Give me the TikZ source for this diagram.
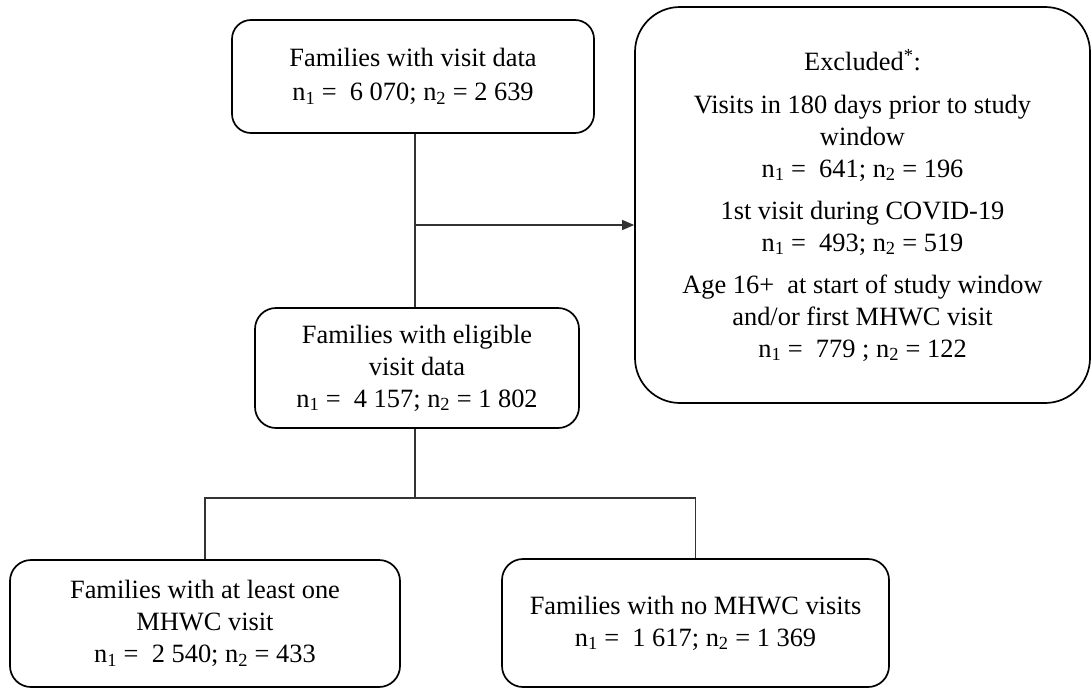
\documentclass[tikz,border=0pt]{standalone}
\usepackage{fontspec}
\setmainfont{Liberation Serif}
\usetikzlibrary{arrows.meta}
\begin{document}
\begin{tikzpicture}[x=1pt,y=-1pt,
  box/.style={draw=black, line width=1.7pt, align=center, inner sep=0pt,
    font=\fontsize{26.4}{32}\selectfont},
  conn/.style={draw=black!80, line width=1.2pt},
  arr/.style={conn, -{Triangle[length=12pt,width=10pt]}}]
\useasboundingbox (0,0) rectangle (1091,688);
\node[box, rounded corners=19pt, minimum width=362pt, minimum height=113pt] (b1) at (413,76.5)
  {Families with visit data\\[2pt] n\textsubscript{1} =\ \ 6 070; n\textsubscript{2} = 2 639};
\node[box, rounded corners=21pt, minimum width=324pt, minimum height=120pt] (b2) at (417,368)
  {Families with eligible\\ visit data\\ n\textsubscript{1} =\ \ 4 157; n\textsubscript{2} = 1 802};
\node[box, rounded corners=45pt, minimum width=455pt, minimum height=396pt] (ex) at (862.5,205)
  {Excluded\textsuperscript{*}:\\[11pt]
   Visits in 180 days prior to study\\ window\\ n\textsubscript{1} =\ \ 641; n\textsubscript{2} = 196\\[10pt]
   1st visit during COVID-19\\ n\textsubscript{1} =\ \ 493; n\textsubscript{2} = 519\\[10pt]
   Age 16+\ \ at start of study window\\ and/or first MHWC visit\\ n\textsubscript{1} =\ \ 779 ; n\textsubscript{2} = 122};
\node[box, rounded corners=21pt, minimum width=390pt, minimum height=127pt] (lt) at (205,623.5)
  {Families with at least one\\ MHWC visit\\ n\textsubscript{1} =\ \ 2 540; n\textsubscript{2} = 433};
\node[box, rounded corners=21pt, minimum width=387pt, minimum height=128pt] (rt) at (695.5,623)
  {Families with no MHWC visits\\ n\textsubscript{1} =\ \ 1 617; n\textsubscript{2} = 1 369};
\coordinate (v) at (415,225);
\coordinate (h) at (415,498);
\draw[conn] (b1.south -| v) -- (b2.north -| v);
\draw[arr] (v) -- (v -| ex.west);
\draw[conn] (b2.south -| v) -- (h);
\draw[conn] (h) -- (h -| lt.north) -- (lt.north);
\draw[conn] (h) -- (h -| rt.north) -- (rt.north);
\end{tikzpicture}
\end{document}
